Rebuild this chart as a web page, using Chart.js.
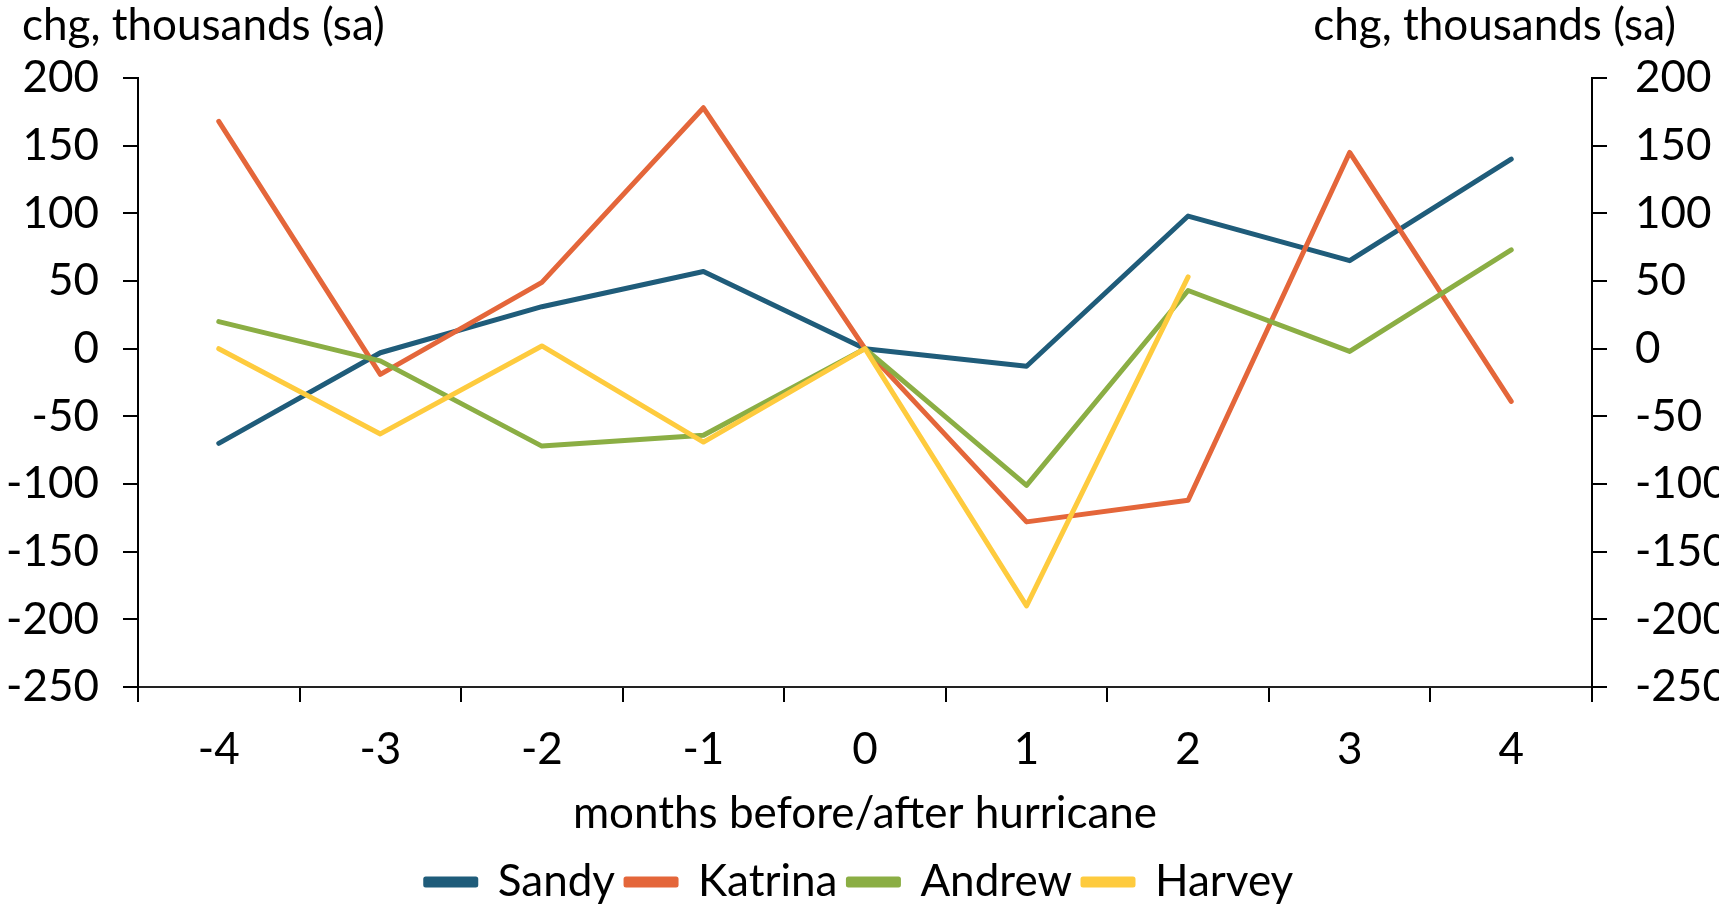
<!DOCTYPE html>
<html>
<head>
<meta charset="utf-8">
<script src="https://cdn.jsdelivr.net/npm/chart.js@4.4.1/dist/chart.umd.min.js"></script>
<style>
  html, body { margin: 0; padding: 0; background: #fff; overflow: hidden; }
  #wrap { position: relative; width: 1719px; height: 909px; overflow: hidden; }
</style>
</head>
<body>
<div id="wrap"><canvas id="chart" width="1719" height="914"></canvas></div>
<script>
const months = ['-4', '-3', '-2', '-1', '0', '1', '2', '3', '4'];
const sandy   = [-70, -3, 31, 57, 0, -13, 98, 65, 140];
const katrina = [168, -19, 49, 178, 0, -128, -112, 145, -39];
const andrew  = [20, -9, -72, -64, 0, -101, 43, -2, 73];
const harvey  = [0, -63, 2, -69, 0, -190, 53, null, null];
const unitLabel = 'chg, thousands (sa)';
const xLabel = 'months before/after hurricane';

const FONT = 'Lato';
const FS = 44;

Chart.defaults.font.family = FONT;
Chart.defaults.font.size = FS;
Chart.defaults.color = '#000';

const topTitles = {
    id: 'topTitles',
    afterDraw(chart) {
        const c = chart.ctx;
        c.save();
        c.font = FS + 'px ' + FONT;
        c.fillStyle = '#000';
        c.textBaseline = 'middle';
        c.textAlign = 'left';
        c.fillText(unitLabel, 22, 26);
        c.textAlign = 'right';
        c.fillText(unitLabel, 1676, 26);
        c.restore();
    }
};

function line(label, data, color, order) {
    return {
        label: label,
        data: data,
        borderColor: color,
        backgroundColor: color,
        borderWidth: 5,
        pointRadius: 0,
        tension: 0,
        borderCapStyle: 'round',
        borderJoinStyle: 'round',
        order: order
    };
}

const yTicks = { min: -250, max: 200, stepSize: 50 };

new Chart(document.getElementById('chart').getContext('2d'), {
    type: 'line',
    data: {
        labels: months,
        datasets: [
            line('Sandy', sandy, '#1f5c7a', 4),
            line('Katrina', katrina, '#e4663a', 3),
            line('Andrew', andrew, '#8bae44', 2),
            line('Harvey', harvey, '#fecb3e', 1)
        ]
    },
    options: {
        responsive: false,
        animation: false,
        layout: { padding: { top: 78, left: 0, right: 0, bottom: 0 } },
        scales: {
            x: {
                type: 'category',
                offset: true,
                grid: { offset: true, drawOnChartArea: false, tickLength: 15, color: '#000', lineWidth: 2 },
                border: { display: true, color: '#222', width: 2 },
                ticks: { padding: 21, maxRotation: 0 },
                title: { display: true, text: xLabel, padding: { top: 6, bottom: 9 } },
                afterFit(s) { s.height = 162; }
            },
            y: {
                position: 'left',
                min: yTicks.min, max: yTicks.max,
                ticks: { stepSize: yTicks.stepSize, padding: 24 },
                grid: { drawOnChartArea: false, tickLength: 15, color: '#000', lineWidth: 2 },
                border: { display: true, color: '#000', width: 2 },
                afterFit(s) { s.width = 138; }
            },
            y2: {
                position: 'right',
                min: yTicks.min, max: yTicks.max,
                ticks: { stepSize: yTicks.stepSize, padding: 28 },
                grid: { drawOnChartArea: false, tickLength: 15, color: '#000', lineWidth: 2 },
                border: { display: true, color: '#000', width: 2 },
                afterFit(s) { s.width = 127; }
            }
        },
        plugins: {
            legend: {
                position: 'bottom',
                labels: {
                    boxWidth: 50,
                    boxHeight: 6,
                    padding: 11,
                    sort: (a, b) => a.datasetIndex - b.datasetIndex
                }
            },
            tooltip: { enabled: false }
        }
    },
    plugins: [topTitles]
});
</script>
</body>
</html>
